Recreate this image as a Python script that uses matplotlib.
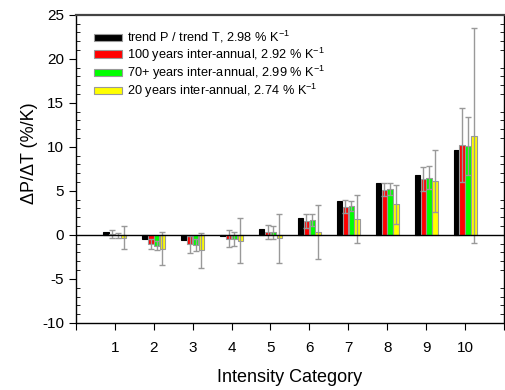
import matplotlib

matplotlib.use("Agg")
import matplotlib.pyplot as plt
import numpy as np
from matplotlib.ticker import MultipleLocator

plt.rcParams["font.family"] = ["Liberation Sans", "DejaVu Sans"]
plt.rcParams["mathtext.default"] = "regular"
plt.rcParams["axes.unicode_minus"] = False

categories = [1, 2, 3, 4, 5, 6, 7, 8, 9, 10]
trend = [0.28, -0.5, -0.57, -0.15, 0.68, 1.89, 3.83, 5.9, 6.85, 9.62]
years100 = [0.08, -0.98, -1.06, -0.42, 0.3, 1.55, 3.22, 5.11, 6.36, 10.19]
years100_err = [0.42, 0.57, 0.95, 1.0, 0.78, 0.77, 0.76, 0.74, 1.4, 4.2]
years70 = [-0.05, -1.25, -1.17, -0.45, 0.3, 1.7, 3.3, 5.19, 6.51, 10.1]
years70_err = [0.3, 0.5, 0.65, 0.8, 0.75, 0.68, 0.6, 0.65, 1.3, 3.3]
years20 = [-0.3, -1.55, -1.74, -0.68, -0.38, 0.3, 1.78, 3.48, 6.1, 11.25]
years20_err = [1.28, 1.9, 2.0, 2.55, 2.77, 3.05, 2.7, 2.2, 3.5, 12.2]

labels = [
    "trend P / trend T, 2.98 % K$^{-1}$",
    "100 years inter-annual, 2.92 % K$^{-1}$",
    "70+ years inter-annual, 2.99 % K$^{-1}$",
    "20 years inter-annual, 2.74 % K$^{-1}$",
]

x = np.array(categories, dtype=float)
width = 0.14
grey = "#999999"

fig = plt.figure(figsize=(5.06, 3.90), dpi=100)
ax = fig.add_axes([0.150, 0.172, 0.846, 0.790])

series = [
    (trend, None, "black", "black"),
    (years100, years100_err, "#ff0000", grey),
    (years70, years70_err, "#00ff00", grey),
    (years20, years20_err, "#ffff00", grey),
]
offsets = [-0.225, -0.075, 0.075, 0.225]

for (vals, err, color, edge), off, label in zip(series, offsets, labels):
    ax.bar(x + off, vals, width=width, color=color, edgecolor=edge,
           linewidth=0.8, label=label, zorder=2)
    if err is not None:
        ax.errorbar(x + off, vals, yerr=err, fmt="none", ecolor=grey,
                    elinewidth=1.0, capsize=2.5, capthick=1.0, zorder=3)

ax.axhline(0, color="black", linewidth=1.0, zorder=4)

ax.set_xlim(0, 11)
ax.set_ylim(-10, 25)
ax.set_xticks(range(0, 12))
ax.set_xticklabels([""] + [str(c) for c in categories] + [""])
ax.yaxis.set_major_locator(MultipleLocator(5))
ax.yaxis.set_minor_locator(MultipleLocator(1))
ax.tick_params(axis="y", which="major", direction="out", length=5, labelsize=11)
ax.tick_params(axis="y", which="minor", direction="in", length=3, right=True)
ax.tick_params(axis="y", which="major", right=True)
ax.tick_params(axis="x", which="major", direction="out", length=5, labelsize=11, pad=8)

ax.set_xlabel("Intensity Category", fontsize=13, labelpad=10)
ax.set_ylabel("ΔP/ΔT (%/K)", fontsize=13)
ax.yaxis.set_label_coords(-0.088, 0.55)

for spine in ax.spines.values():
    spine.set_linewidth(1.0)
ax.spines["top"].set_color("#444444")
ax.spines["top"].set_linewidth(1.6)

leg = ax.legend(loc="upper left", bbox_to_anchor=(0.025, 0.978), frameon=False,
                fontsize=9.2, handlelength=2.15, handleheight=0.5,
                handletextpad=0.43, labelspacing=0.0, borderaxespad=0.2)
for patch in leg.get_patches():
    patch.set_edgecolor(grey)

fig.savefig("out.png", dpi=100)
